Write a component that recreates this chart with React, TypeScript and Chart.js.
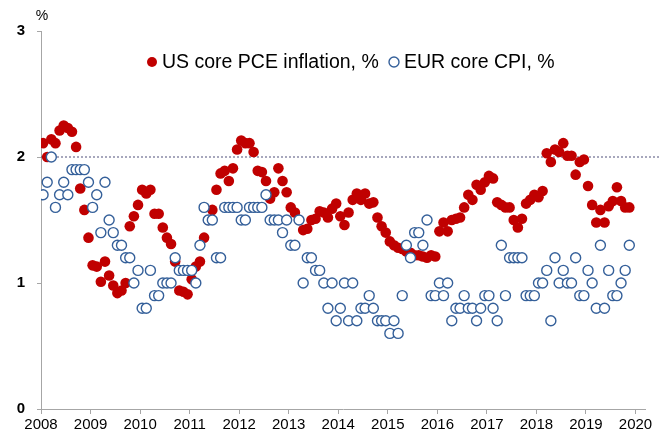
import React, { useEffect, useRef } from 'react';
import { Chart, registerables } from 'chart.js';

Chart.register(...registerables);

// Monthly data, Jan 2008 .. Nov 2019
const yearLabels = ['2008', '2009', '2010', '2011', '2012', '2013', '2014', '2015', '2016', '2017', '2018', '2019', '2020'];
const yTickValues = [0, 1, 2, 3];
const targetLevel = 2;

const usCorePce = [
  2.11, 2.0, 2.14, 2.11, 2.21, 2.25, 2.23, 2.2, 2.08, 1.75, 1.58, 1.36,
  1.14, 1.13, 1.01, 1.17, 1.06, 0.98, 0.92, 0.94, 1.0, 1.45, 1.53, 1.62,
  1.74, 1.71, 1.74, 1.55, 1.55, 1.44, 1.36, 1.31, 1.17, 0.94, 0.93, 0.91,
  1.03, 1.13, 1.17, 1.36, 1.5, 1.58, 1.74, 1.87, 1.89, 1.81, 1.91, 2.06,
  2.13, 2.11, 2.11, 2.04, 1.89, 1.88, 1.81, 1.67, 1.72, 1.91, 1.81, 1.72,
  1.6, 1.56, 1.5, 1.42, 1.43, 1.5, 1.51, 1.57, 1.56, 1.52, 1.59, 1.63,
  1.53, 1.46, 1.56, 1.66, 1.71, 1.66, 1.71, 1.63, 1.64, 1.52, 1.45, 1.4,
  1.33, 1.3, 1.28, 1.27, 1.25, 1.24, 1.22, 1.22, 1.21, 1.2, 1.22, 1.21,
  1.41, 1.48, 1.41, 1.5, 1.51, 1.52, 1.6, 1.7, 1.66, 1.78, 1.74, 1.8,
  1.85, 1.83, 1.64, 1.62, 1.6, 1.6, 1.5, 1.44, 1.51, 1.63, 1.66, 1.7,
  1.68, 1.73, 2.03, 1.96, 2.06, 2.04, 2.11, 2.01, 2.01, 1.86, 1.96, 1.98,
  1.77, 1.62, 1.48, 1.58, 1.48, 1.61, 1.65, 1.76, 1.65, 1.6, 1.6,
];

const eurCoreCpi = [
  1.7, 1.8, 2.0, 1.6, 1.7, 1.8, 1.7, 1.9, 1.9, 1.9, 1.9, 1.8,
  1.6, 1.7, 1.4, 1.8, 1.5, 1.4, 1.3, 1.3, 1.2, 1.2, 1.0, 1.1,
  0.8, 0.8, 1.1, 0.9, 0.9, 1.0, 1.0, 1.0, 1.2, 1.1, 1.1, 1.1,
  1.1, 1.0, 1.3, 1.6, 1.5, 1.5, 1.2, 1.2, 1.6, 1.6, 1.6, 1.6,
  1.5, 1.5, 1.6, 1.6, 1.6, 1.6, 1.7, 1.5, 1.5, 1.5, 1.4, 1.5,
  1.3, 1.3, 1.5, 1.0, 1.2, 1.2, 1.1, 1.1, 1.0, 0.8, 1.0, 0.7,
  0.8, 1.0, 0.7, 1.0, 0.7, 0.8, 0.8, 0.9, 0.8, 0.7, 0.7, 0.7,
  0.6, 0.7, 0.6, 0.9, 1.3, 1.2, 1.4, 1.4, 1.3, 1.5, 0.9, 0.9,
  1.0, 0.9, 1.0, 0.7, 0.8, 0.8, 0.9, 0.8, 0.8, 0.7, 0.8, 0.9,
  0.9, 0.8, 0.7, 1.3, 0.9, 1.2, 1.2, 1.2, 1.2, 0.9, 0.9, 0.9,
  1.0, 1.0, 1.1, 0.7, 1.2, 1.0, 1.1, 1.0, 1.0, 1.2, 0.9, 0.9,
  1.1, 1.0, 0.8, 1.3, 0.8, 1.1, 0.9, 0.9, 1.0, 1.1, 1.3,
];

const seriesNames = ['US core PCE inflation, %', 'EUR core CPI, %'];
const X_MAX = 146.3;
const TARGET_END = 150;
const FONT = '"Liberation Sans", Arial, sans-serif';

const toPoints = (arr: number[]) => arr.map((v, i) => ({ x: i + 0.5, y: v }));

const insideLegend = {
  id: 'insideLegend',
  afterDraw(chart: any) {
    const { ctx, chartArea } = chart;
    ctx.save();
    ctx.font = `19.5px ${FONT}`;
    ctx.textBaseline = 'middle';
    ctx.textAlign = 'left';
    const y = chartArea.top + 31;
    const starts = [chartArea.left + 111, chartArea.left + 353];
    chart.data.datasets.slice(0, 2).forEach((ds: any, i: number) => {
      const x = starts[i];
      ctx.beginPath();
      ctx.arc(x, y, 5, 0, Math.PI * 2);
      ctx.fillStyle = ds.backgroundColor;
      ctx.fill();
      if (ds.borderWidth) {
        ctx.lineWidth = ds.borderWidth;
        ctx.strokeStyle = ds.borderColor;
        ctx.stroke();
      }
      ctx.fillStyle = '#000';
      ctx.fillText(ds.label, x + 10, y + 1);
    });
    ctx.restore();
  },
};

const percentLabel = {
  id: 'percentLabel',
  afterDraw(chart: any) {
    const { ctx, chartArea } = chart;
    ctx.save();
    ctx.font = `14px ${FONT}`;
    ctx.fillStyle = '#000';
    ctx.textAlign = 'center';
    ctx.textBaseline = 'middle';
    ctx.fillText('%', chartArea.left + 1, chartArea.top - 15);
    ctx.restore();
  },
};

export default function App() {
  const canvasRef = useRef<HTMLCanvasElement>(null);

  useEffect(() => {
    if (!canvasRef.current) return;
    const chart = new Chart(canvasRef.current, {
      type: 'scatter',
      data: {
        datasets: [
          {
            label: seriesNames[0],
            data: toPoints(usCorePce),
            backgroundColor: '#c00000',
            borderColor: '#c00000',
            borderWidth: 0,
            pointRadius: 5.3,
            order: 2,
          },
          {
            label: seriesNames[1],
            data: toPoints(eurCoreCpi),
            backgroundColor: '#ffffff',
            borderColor: '#35609a',
            borderWidth: 1.4,
            pointRadius: 5,
            order: 1,
          },
          {
            type: 'line',
            label: 'target',
            data: [
              { x: 0, y: targetLevel },
              { x: TARGET_END, y: targetLevel },
            ],
            borderColor: '#50507a',
            borderWidth: 1,
            borderDash: [2, 2],
            pointRadius: 0,
            clip: false,
            order: 3,
          } as any,
        ],
      },
      options: {
        responsive: false,
        animation: false,
        layout: { padding: { left: 8, top: 31, right: 22, bottom: 0 } },
        plugins: {
          legend: { display: false },
          tooltip: { enabled: false },
        },
        scales: {
          x: {
            type: 'linear',
            min: 0,
            max: X_MAX,
            afterFit: (s: any) => {
              s.height = 25;
            },
            afterBuildTicks: (s: any) => {
              s.ticks = yearLabels.map((_, i) => ({ value: i * 12 }));
            },
            ticks: {
              autoSkip: false,
              maxRotation: 0,
              padding: 2,
              color: '#000',
              font: { family: FONT, size: 15 },
              callback: (v: any) => yearLabels[Math.round(Number(v) / 12)],
            },
            grid: { drawOnChartArea: false, drawTicks: true, tickLength: 5, color: '#a6a6a6' },
            border: { display: true, color: '#a6a6a6', width: 1 },
          },
          y: {
            min: 0,
            max: 3,
            afterFit: (s: any) => {
              s.width = 33;
            },
            afterBuildTicks: (s: any) => {
              s.ticks = yTickValues.map((v) => ({ value: v }));
            },
            ticks: {
              padding: 12,
              color: '#000',
              font: { family: FONT, size: 15, weight: 'bold' },
            },
            grid: { drawOnChartArea: false, drawTicks: true, tickLength: 4, color: '#a6a6a6' },
            border: { display: true, color: '#a6a6a6', width: 1 },
          },
        },
      },
      plugins: [insideLegend, percentLabel],
    });
    return () => chart.destroy();
  }, []);

  return (
    <div style={{ position: 'fixed', left: 0, top: 0, width: 667, height: 434, background: '#fff' }}>
      <canvas ref={canvasRef} width={667} height={434} />
    </div>
  );
}
